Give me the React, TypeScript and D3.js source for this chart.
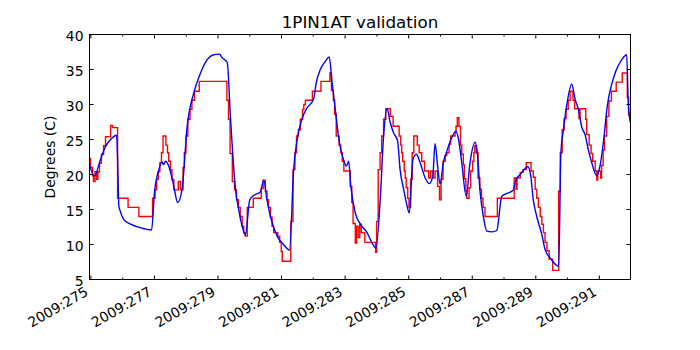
import React from "react";
import * as d3 from "d3";

const TITLE = "1PIN1AT validation";
const Y_LABEL = "Degrees (C)";

const yTicks = [5, 10, 15, 20, 25, 30, 35, 40];
const xMajorDays = [275, 277, 279, 281, 283, 285, 287, 289, 291];
const xMinorDays = [276, 278, 280, 282, 284, 286, 288, 290];
const xTickLabels = [
  "2009:275", "2009:277", "2009:279", "2009:281", "2009:283",
  "2009:285", "2009:287", "2009:289", "2009:291",
];

// model prediction (blue): [day of year, degC]
const modelTemps: [number, number][] = [
  [274.96, 21.3], [275.11, 19.8], [275.3, 22.1], [275.46, 24.0], [275.62, 25.0],
  [275.81, 25.6], [275.84, 22.0], [275.88, 15.5], [275.92, 14.8], [276.03, 13.6],
  [276.25, 12.9], [276.56, 12.4], [276.91, 12.1], [277.0, 17.4], [277.14, 20.7],
  [277.24, 21.8], [277.28, 21.4], [277.35, 21.9], [277.45, 21.2], [277.61, 18.3],
  [277.73, 16.0], [277.87, 17.9], [278.03, 26.9], [278.24, 31.7], [278.45, 34.5],
  [278.66, 36.4], [278.86, 37.1], [279.05, 37.2], [279.13, 36.7], [279.29, 36.0],
  [279.39, 28.3], [279.55, 17.9], [279.65, 15.0], [279.76, 12.6], [279.86, 11.4],
  [280.0, 16.4], [280.12, 17.0], [280.33, 17.5], [280.44, 19.2], [280.54, 16.4],
  [280.65, 14.0], [280.86, 11.2], [281.06, 10.0], [281.25, 9.2], [281.38, 20.7],
  [281.49, 25.0], [281.64, 27.9], [281.8, 29.5], [282.01, 30.8], [282.09, 33.1],
  [282.22, 35.0], [282.38, 36.2], [282.5, 36.8], [282.59, 33.1], [282.69, 29.3],
  [282.79, 25.5], [282.95, 22.1], [283.04, 21.2], [283.11, 21.9], [283.18, 18.3],
  [283.32, 14.5], [283.48, 12.9], [283.69, 11.7], [283.84, 10.3], [283.97, 9.5],
  [284.11, 16.9], [284.21, 25.5], [284.32, 29.4], [284.42, 27.4], [284.52, 26.0],
  [284.65, 24.8], [284.73, 20.7], [284.84, 17.9], [284.94, 15.7], [285.02, 14.5],
  [285.13, 22.1], [285.24, 22.9], [285.36, 21.7], [285.52, 19.5], [285.65, 18.7],
  [285.76, 19.8], [285.83, 24.4], [285.91, 21.2], [285.99, 18.6], [286.09, 21.7],
  [286.2, 23.3], [286.33, 25.0], [286.49, 26.2], [286.57, 25.0], [286.67, 21.7],
  [286.81, 16.9], [286.93, 21.7], [287.09, 24.6], [287.16, 23.1], [287.25, 17.4],
  [287.35, 14.0], [287.46, 11.9], [287.62, 11.8], [287.77, 12.0], [287.93, 16.9],
  [288.09, 17.3], [288.28, 17.7], [288.38, 19.3], [288.51, 20.0], [288.63, 20.7],
  [288.75, 21.1], [288.84, 19.8], [288.92, 16.4], [289.03, 14.0], [289.19, 11.4],
  [289.29, 9.3], [289.45, 8.1], [289.66, 7.0], [289.72, 6.9], [289.79, 23.1],
  [289.87, 26.4], [289.97, 29.8], [290.13, 32.9], [290.24, 30.7], [290.34, 29.3],
  [290.45, 26.7], [290.55, 25.7], [290.65, 23.6], [290.76, 21.7], [290.92, 19.8],
  [291.02, 21.2], [291.15, 25.5], [291.25, 29.8], [291.39, 32.9], [291.52, 34.8],
  [291.65, 36.0], [291.79, 36.9], [291.86, 37.1], [291.91, 30.2], [291.98, 27.4],
];

// telemetry (red, stepped): [day of year, degC]
const telemTemps: [number, number][] = [
  [274.96, 22.3], [274.99, 21.0], [275.05, 19.8], [275.08, 19.0], [275.13, 20.4],
  [275.18, 19.3], [275.22, 20.4], [275.27, 21.6], [275.33, 22.9], [275.4, 24.1],
  [275.46, 25.4], [275.62, 27.0], [275.68, 26.7], [275.84, 16.6], [276.17, 15.3],
  [276.51, 14.0], [276.94, 16.6], [277.02, 17.8], [277.07, 19.3], [277.12, 20.4],
  [277.17, 21.7], [277.22, 23.1], [277.27, 25.5], [277.36, 24.2], [277.41, 23.1],
  [277.45, 21.9], [277.5, 20.7], [277.55, 19.3], [277.61, 17.8], [277.75, 19.0],
  [277.82, 17.8], [277.9, 21.0], [277.94, 23.1], [277.99, 25.5], [278.05, 27.9],
  [278.12, 29.3], [278.18, 30.6], [278.26, 31.9], [278.41, 33.3], [279.28, 30.6],
  [279.33, 27.9], [279.38, 23.0], [279.45, 19.0], [279.52, 17.8], [279.58, 16.4],
  [279.64, 15.3], [279.7, 14.0], [279.76, 12.6], [279.81, 11.7], [279.86, 11.2],
  [279.92, 15.3], [280.11, 16.6], [280.36, 18.0], [280.42, 19.2], [280.49, 17.6],
  [280.54, 16.4], [280.59, 15.3], [280.65, 13.9], [280.7, 12.6], [280.75, 11.7],
  [280.88, 11.2], [280.94, 10.3], [280.99, 9.0], [281.02, 7.6], [281.29, 13.3],
  [281.36, 20.7], [281.42, 23.1], [281.47, 25.5], [281.53, 26.4], [281.59, 27.9],
  [281.66, 29.3], [281.7, 30.0], [281.75, 30.6], [281.97, 31.9], [282.24, 33.3],
  [282.52, 34.5], [282.57, 32.0], [282.63, 30.6], [282.67, 28.6], [282.72, 25.5],
  [282.81, 24.2], [282.86, 23.1], [282.91, 21.9], [282.96, 20.5], [283.16, 18.3],
  [283.21, 16.0], [283.25, 13.0], [283.32, 10.2], [283.36, 12.6], [283.41, 11.0],
  [283.46, 12.9], [283.51, 11.7], [283.62, 10.3], [283.96, 8.9], [283.99, 13.3],
  [284.04, 20.7], [284.1, 23.1], [284.15, 25.5], [284.21, 27.9], [284.28, 29.4],
  [284.42, 28.3], [284.51, 26.9], [284.7, 25.5], [284.75, 24.2], [284.78, 23.1],
  [284.81, 21.9], [284.86, 20.5], [284.89, 19.5], [284.92, 18.1], [284.97, 16.6],
  [285.01, 15.3], [285.06, 19.3], [285.11, 23.1], [285.16, 25.5], [285.27, 24.2],
  [285.33, 23.1], [285.41, 21.9], [285.5, 20.5], [285.63, 19.5], [285.69, 20.5],
  [285.77, 19.5], [285.83, 20.5], [285.91, 18.3], [285.97, 16.4], [286.02, 19.3],
  [286.08, 21.9], [286.15, 22.7], [286.2, 23.1], [286.27, 24.3], [286.32, 25.5],
  [286.46, 26.0], [286.49, 26.9], [286.53, 28.1], [286.58, 26.9], [286.63, 24.2],
  [286.67, 22.9], [286.72, 21.4], [286.75, 19.4], [286.8, 17.6], [286.83, 16.6],
  [286.9, 18.1], [286.95, 20.5], [287.01, 21.9], [287.05, 23.1], [287.08, 24.1],
  [287.13, 23.1], [287.18, 19.5], [287.24, 17.9], [287.29, 16.6], [287.34, 15.3],
  [287.4, 14.0], [287.79, 16.6], [288.32, 19.5], [288.38, 17.9], [288.41, 19.5],
  [288.51, 20.3], [288.6, 20.7], [288.7, 21.7], [288.85, 20.5], [288.92, 19.6],
  [288.98, 17.9], [289.03, 16.6], [289.08, 15.3], [289.14, 14.0], [289.19, 12.9],
  [289.24, 11.7], [289.29, 10.3], [289.35, 9.1], [289.42, 7.9], [289.53, 6.3],
  [289.72, 17.6], [289.77, 23.1], [289.83, 26.4], [289.89, 28.0], [289.95, 29.3],
  [290.02, 30.6], [290.08, 31.9], [290.17, 30.6], [290.22, 29.4], [290.36, 28.0],
  [290.39, 29.4], [290.57, 27.9], [290.6, 25.7], [290.68, 24.2], [290.74, 23.0],
  [290.79, 21.9], [290.87, 20.5], [290.92, 19.2], [290.95, 20.5], [291.04, 19.5],
  [291.07, 21.3], [291.12, 23.5], [291.16, 25.5], [291.23, 28.3], [291.3, 30.5],
  [291.38, 31.9], [291.53, 33.2], [291.72, 34.5], [291.88, 31.0], [291.92, 28.5],
  [291.98, 27.4],
];

const W = 700;
const H = 350;
const frame = { left: 89.5, right: 630.5, top: 34.5, bottom: 279.5 };
const font = "'DejaVu Sans', sans-serif";
const tickFs = 13.9;

export default function App() {
  const x = d3.scaleLinear().domain([274.956, 291.98]).range([frame.left, frame.right]);
  const y = d3.scaleLinear().domain([5, 40]).range([frame.bottom, frame.top]);

  const bluePath = d3
    .line<[number, number]>()
    .x((d) => x(d[0]))
    .y((d) => y(d[1]))
    .curve(d3.curveMonotoneX)(modelTemps);

  const redPath = d3
    .line<[number, number]>()
    .x((d) => x(d[0]))
    .y((d) => y(d[1]))
    .curve(d3.curveStepAfter)(telemTemps);

  const pw = frame.right - frame.left;
  const ph = frame.bottom - frame.top;

  return (
    <svg
      width={W}
      height={H}
      style={{ position: "absolute", left: 0, top: 0, background: "#fff" }}
      fontFamily={font}
    >
      <rect x={0} y={0} width={W} height={H} fill="#fff" />
      <defs>
        <clipPath id="plotClip">
          <rect x={frame.left} y={frame.top} width={pw} height={ph} />
        </clipPath>
      </defs>

      <g clipPath="url(#plotClip)">
        <path d={redPath ?? ""} fill="none" stroke="#ff0000" strokeWidth={1.4} />
        <path d={bluePath ?? ""} fill="none" stroke="#0000ff" strokeWidth={1.4} />
      </g>

      {/* x ticks, bottom and top */}
      {xMajorDays.map((d) => (
        <g key={"M" + d} stroke="#000" strokeWidth={1}>
          <line x1={x(d)} x2={x(d)} y1={frame.bottom} y2={frame.bottom - 4} />
          <line x1={x(d)} x2={x(d)} y1={frame.top} y2={frame.top + 4} />
        </g>
      ))}
      {xMinorDays.map((d) => (
        <g key={"m" + d} stroke="#000" strokeWidth={1}>
          <line x1={x(d)} x2={x(d)} y1={frame.bottom} y2={frame.bottom - 2} />
          <line x1={x(d)} x2={x(d)} y1={frame.top} y2={frame.top + 2} />
        </g>
      ))}
      {xMajorDays.map((d, i) => (
        <text
          key={"l" + d}
          transform={`translate(${x(d) - 1.7},${frame.bottom + 15}) rotate(-30)`}
          textAnchor="end"
          fontSize={tickFs}
          fill="#000"
        >
          {xTickLabels[i]}
        </text>
      ))}

      {/* y ticks, left and right */}
      {yTicks.map((t) => (
        <g key={"y" + t}>
          <line x1={frame.left} x2={frame.left + 4} y1={y(t)} y2={y(t)} stroke="#000" />
          <line x1={frame.right} x2={frame.right - 4} y1={y(t)} y2={y(t)} stroke="#000" />
          <text x={frame.left - 6} y={y(t) + 6} textAnchor="end" fontSize={tickFs} fill="#000">
            {t}
          </text>
        </g>
      ))}

      <rect
        x={frame.left}
        y={frame.top}
        width={pw}
        height={ph}
        fill="none"
        stroke="#000"
        strokeWidth={1}
      />

      <text
        x={(frame.left + frame.right) / 2}
        y={27.5}
        textAnchor="middle"
        fontSize={16.7}
        fill="#000"
      >
        {TITLE}
      </text>

      <text
        transform={`translate(55,${(frame.top + frame.bottom) / 2}) rotate(-90)`}
        textAnchor="middle"
        fontSize={tickFs}
        fill="#000"
      >
        {Y_LABEL}
      </text>
    </svg>
  );
}
